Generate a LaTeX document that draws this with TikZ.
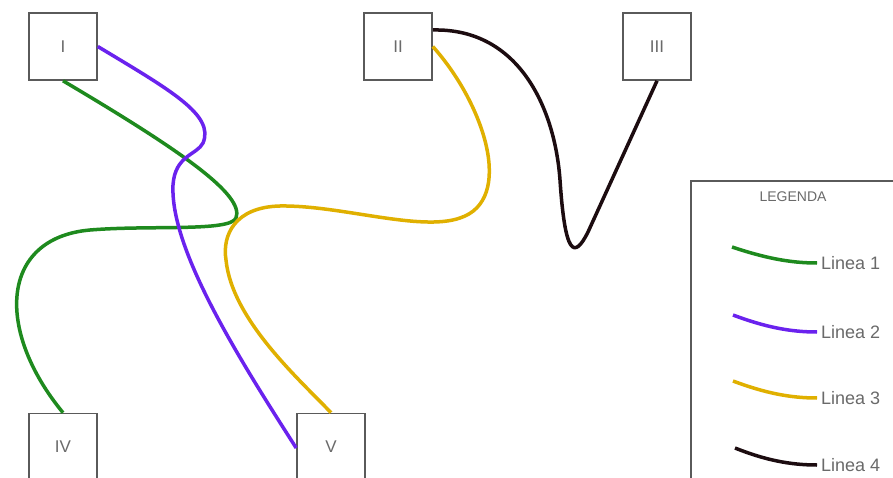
\documentclass[tikz,border=0pt]{standalone}
\usepackage{fontspec}
\setmainfont{Liberation Sans}
\definecolor{boxgray}{HTML}{5A5A5A}
\definecolor{labgray}{HTML}{6A6A6A}
\definecolor{gline}{HTML}{1E8A1E}
\definecolor{pline}{HTML}{6A22EE}
\definecolor{yline}{HTML}{E0B000}
\definecolor{kline}{HTML}{1C0C10}
\begin{document}
\begin{tikzpicture}[x=1pt,y=-1pt,
  box/.style={draw=boxgray,line width=1.6pt,fill=white,minimum width=68pt,minimum height=67pt,inner sep=0pt,font=\fontsize{17}{17}\selectfont,text=labgray},
  wire/.style={line width=3.5pt},
  legtext/.style={anchor=west,inner ysep=0pt,inner xsep=4pt,font=\fontsize{18}{18}\selectfont,text=labgray},
]
\useasboundingbox (0,0) rectangle (893,478);
\clip (0,0) rectangle (893,478);
\fill[white] (0,0) rectangle (893,478);
% nodes
\node[box] (I) at (63,46.5) {I};
\node[box] (II) at (398,46.5) {II};
\node[box] (III) at (657,46.5) {III};
\node[box] (IV) at (63,447) {IV};
\node[box] (V) at (331,447) {V};
% legend
\node[draw=boxgray,line width=1.6pt,minimum width=230pt,minimum height=330pt,anchor=north west,inner sep=0pt] (leg) at (690,180) {};
\node[inner sep=0pt,font=\fontsize{14}{14}\selectfont,text=labgray] (legt) at (793,197) {LEGENDA};
\node[legtext] (t1) at (817,263) {Linea 1};
\node[legtext] (t2) at (817,332) {Linea 2};
\node[legtext] (t3) at (817,398) {Linea 3};
\node[legtext] (t4) at (817,465) {Linea 4};
\coordinate (s1) at (732,247);
\coordinate (s2) at (733,315);
\coordinate (s3) at (733,381);
\coordinate (s4) at (735,448);
% Linea 1 (green)
\draw[wire,gline] (I.south) .. controls (180,150) and (245,195) .. (236,218)
  .. controls (230,232) and (150,225) .. (90,230)
  .. controls (0,238) and (-5,330) .. (IV.north);
% Linea 2 (purple)
\draw[wire,pline] (I.east) .. controls (170,90) and (215,115) .. (203,143)
  .. controls (197,155) and (175,155) .. (173,185)
  .. controls (170,250) and (240,360) .. ([yshift=-1pt]V.west);
% Linea 3 (yellow)
\draw[wire,yline] (II.east) .. controls (485,105) and (515,200) .. (460,218)
  .. controls (420,232) and (340,205) .. (280,206)
  .. controls (235,207) and (222,235) .. (226,260)
  .. controls (232,320) and (300,380) .. (V.north);
% Linea 4 (black)
\draw[wire,kline] ([yshift=16.5pt]II.east) .. controls (520,28) and (555,110) .. (560,180)
  .. controls (565,255) and (574,260) .. (588,232) -- (III.south);
% legend lines
\draw[wire,gline] (s1) .. controls (765,258) and (790,263) .. (t1.west);
\draw[wire,pline] (s2) .. controls (765,327) and (790,332) .. (t2.west);
\draw[wire,yline] (s3) .. controls (765,393) and (790,398) .. (t3.west);
\draw[wire,kline] (s4) .. controls (765,460) and (790,465) .. (t4.west);
\end{tikzpicture}
\end{document}
